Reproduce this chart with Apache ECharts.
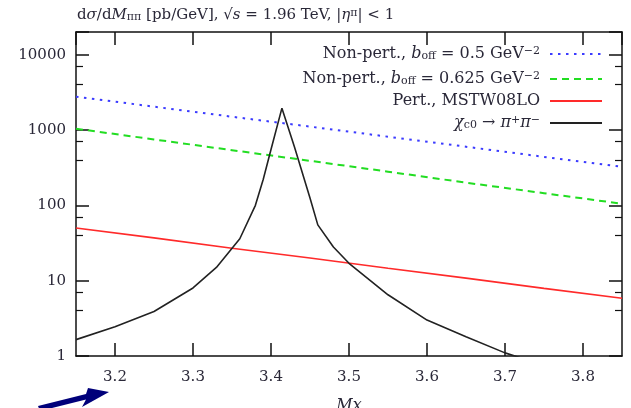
<!DOCTYPE html>
<html><head><meta charset="utf-8">
<script src="https://cdn.jsdelivr.net/npm/echarts@6/dist/echarts.min.js"></script>
<style>html,body{margin:0;padding:0;background:#fff}#c{width:631px;height:408px}</style>
</head><body><div id="c"></div>
<script>
// ---- data ----
const lineX = [3.15, 3.25, 3.35, 3.45, 3.55, 3.65, 3.75, 3.85];
const nonPert05 = [2770, 2040, 1500, 1110, 815, 600, 440, 325];
const nonPert0625 = [1040, 750, 540, 390, 280, 200, 145, 105];
const pertMSTW = [50, 37, 27, 20, 14.6, 10.8, 7.9, 5.85];
const chiX = [3.15, 3.2, 3.25, 3.3, 3.33, 3.36, 3.38, 3.39, 3.40, 3.414, 3.43, 3.45, 3.46, 3.48, 3.5, 3.55, 3.6, 3.65, 3.7, 3.75, 3.8, 3.85];
const chiY = [1.65, 2.45, 3.9, 8.0, 15, 36, 100, 220, 550, 1950, 600, 125, 55, 28, 17, 6.5, 3.0, 1.8, 1.1, 0.75, 0.55, 0.4];
const yMin = 1, yMax = 20000;
const xMin = 3.15, xMax = 3.85;

const pairs = (xs, ys) => xs.map((x, i) => [x, ys[i]]);
const FONT = '"DejaVu Serif", "Liberation Serif", serif';
const TXT = '#2a2838';

const legendText = {
  np05: 'Non-pert., {i|b}{sub|off} = 0.5 GeV{sup|−2}',
  np0625: 'Non-pert., {i|b}{sub|off} = 0.625 GeV{sup|−2}',
  pert: 'Pert., MSTW08LO',
  chi: '{i|χ}{sub|c0} → {i|π}{sup|+}{i|π}{sup|−}'
};
const mkRich = (fs) => ({
  i: {fontStyle: 'italic', fontFamily: FONT, fontSize: fs, color: TXT},
  sub: {fontSize: 11, fontFamily: FONT, color: TXT, verticalAlign: 'bottom', lineHeight: 12, padding: [8, 0, 0, 0]},
  sup: {fontSize: 11, fontFamily: FONT, color: TXT, verticalAlign: 'top', lineHeight: 12, padding: [0, 0, 8, 0]}
});

const chart = echarts.init(document.getElementById('c'), null, {renderer: 'canvas'});
const axisLine = {show: true, lineStyle: {color: '#111', width: 1.5}};
const tick = {show: true, inside: true, length: 13, lineStyle: {color: '#111', width: 1.5}};
const minor = {show: true, splitNumber: 3, length: 7, lineStyle: {color: '#111', width: 1.2}};
const xBase = {type: 'value', min: xMin, max: xMax, splitNumber: 7, splitLine: {show: false}, axisLine: axisLine, axisTick: tick};
const yBase = {type: 'log', logBase: 10, min: yMin, max: yMax, splitLine: {show: false}, axisLine: axisLine, axisTick: tick, minorTick: minor, minorSplitLine: {show: false}};

chart.setOption({
  animation: false,
  backgroundColor: '#fff',
  title: {
    left: 72, top: 3,
    text: 'd{i|σ}/d{i|M}{sub|ππ} [pb/GeV], √{i|s} = 1.96 TeV, |{i|η}{sup|π}| < 1',
    textStyle: {fontFamily: FONT, fontSize: 15, fontWeight: 'normal', color: TXT, rich: mkRich(15)}
  },
  grid: {left: 76, right: 9, top: 32, bottom: 52, containLabel: false, outerBoundsMode: 'none'},
  legend: {
    orient: 'vertical', right: 28, top: 43, align: 'right', padding: 0,
    itemWidth: 52, itemHeight: 14, itemGap: 3,
    itemStyle: {opacity: 0},
    data: ['np05', 'np0625', 'pert', 'chi'],
    formatter: n => legendText[n],
    textStyle: {fontFamily: FONT, fontSize: 16, color: TXT, padding: [0, 5, 0, 0], rich: mkRich(16)}
  },
  xAxis: [
    Object.assign({}, xBase, {position: 'bottom',
      axisLabel: {show: true, margin: 14, fontFamily: FONT, fontSize: 15, color: TXT, showMinLabel: false, showMaxLabel: false},
      name: 'Mx', nameLocation: 'middle', nameGap: 42,
      nameTextStyle: {fontFamily: FONT, fontSize: 16, fontStyle: 'italic', color: TXT}}),
    Object.assign({}, xBase, {position: 'top', axisLabel: {show: false}})
  ],
  yAxis: [
    Object.assign({}, yBase, {position: 'left',
      axisLabel: {show: true, margin: 10, fontFamily: FONT, fontSize: 15, color: TXT, showMaxLabel: false,
        formatter: v => String(Math.round(v))}}),
    Object.assign({}, yBase, {position: 'right', axisLabel: {show: false}})
  ],
  series: [
    {name: 'np05', type: 'line', data: pairs(lineX, nonPert05), symbol: 'none', clip: true,
     lineStyle: {color: '#3b3bff', width: 2, type: [2.5, 5.5]}, itemStyle: {color: '#3b3bff'}},
    {name: 'np0625', type: 'line', data: pairs(lineX, nonPert0625), symbol: 'none', clip: true,
     lineStyle: {color: '#22dd22', width: 2, type: [7, 5]}, itemStyle: {color: '#22dd22'}},
    {name: 'pert', type: 'line', data: pairs(lineX, pertMSTW), symbol: 'none', clip: true,
     lineStyle: {color: '#ff2a2a', width: 1.6}, itemStyle: {color: '#ff2a2a'}},
    {name: 'chi', type: 'line', data: pairs(chiX, chiY), symbol: 'none', clip: true,
     lineStyle: {color: '#222', width: 1.6}, itemStyle: {color: '#222'}}
  ],
  graphic: [{
    type: 'polygon', silent: true,
    shape: {points: [[38, 406], [86, 394], [88, 388], [109, 392], [82, 407], [86, 399.5], [40, 411]]},
    style: {fill: '#00007a'}
  }]
});
</script></body></html>
